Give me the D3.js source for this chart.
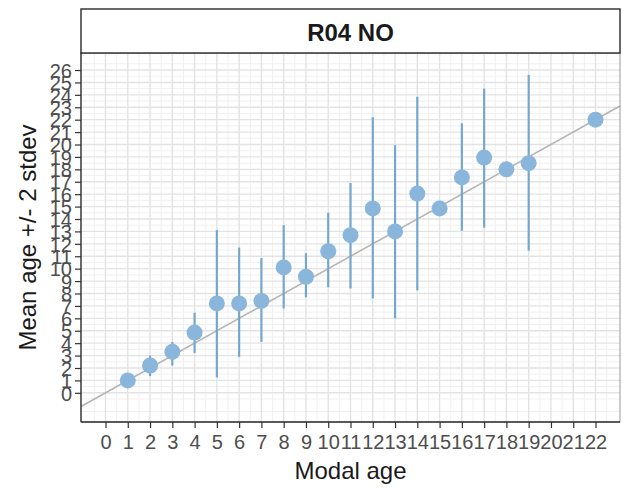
<!DOCTYPE html>
<html>
<head>
<meta charset="utf-8">
<script src="https://cdn.jsdelivr.net/npm/d3@7"></script>
<style>
  body { margin: 0; background: #fff; }
  svg { display: block; font-family: "Liberation Sans", Arial, sans-serif; }
</style>
</head>
<body>
<svg id="chart" width="623" height="489"></svg>
<script>
// modal age, mean age, mean - 2sd, mean + 2sd
const modalAge = [1, 2, 3, 4, 5, 6, 7, 8, 9, 10, 11, 12, 13, 14, 15, 16, 17, 18, 19, 22];
const meanAge  = [1.0, 2.2, 3.3, 4.85, 7.2, 7.2, 7.4, 10.1, 9.35, 11.4, 12.7, 14.85, 13.0, 16.05, 14.85, 17.35, 18.95, 18.0, 18.5, 22.0];
const lowAge   = [1.0, 1.35, 2.2, 3.2, 1.25, 2.9, 4.1, 6.8, 7.7, 8.5, 8.4, 7.6, 6.0, 8.25, 14.85, 13.05, 13.3, 18.0, 11.45, 22.0];
const highAge  = [1.0, 3.0, 4.1, 6.45, 13.1, 11.7, 10.85, 13.5, 11.25, 14.5, 16.9, 22.2, 19.95, 23.85, 14.85, 21.7, 24.5, 18.0, 25.6, 22.0];
const xTicks = d3.range(0, 23);
const yTicks = d3.range(0, 27);
const stripLabel = "R04 NO";

const svg = d3.select('#chart');
const pLeft = 81, pRight = 620, pTop = 53, pBottom = 422;

const x = d3.scaleLinear().domain([-1.1, 23.1]).range([pLeft, pRight]);
const y = d3.scaleLinear().domain([-2.35, 27.37]).range([pBottom, pTop]);

// panel background
svg.append('rect')
  .attr('x', pLeft).attr('y', pTop)
  .attr('width', pRight - pLeft).attr('height', pBottom - pTop)
  .style('fill', '#fff');

// minor grid
const g = svg.append('g');
d3.range(-0.5, 23.5, 1).forEach(v => {
  g.append('line')
    .attr('x1', x(v)).attr('x2', x(v)).attr('y1', pTop).attr('y2', pBottom)
    .style('stroke', '#eeeeee').style('stroke-width', 0.9);
});
d3.range(-1.5, 27.5, 1).forEach(v => {
  g.append('line')
    .attr('x1', pLeft).attr('x2', pRight).attr('y1', y(v)).attr('y2', y(v))
    .style('stroke', '#eeeeee').style('stroke-width', 0.9);
});
// major grid
xTicks.forEach(v => {
  g.append('line')
    .attr('x1', x(v)).attr('x2', x(v)).attr('y1', pTop).attr('y2', pBottom)
    .style('stroke', '#e3e3e3').style('stroke-width', 1.4);
});
yTicks.forEach(v => {
  g.append('line')
    .attr('x1', pLeft).attr('x2', pRight).attr('y1', y(v)).attr('y2', y(v))
    .style('stroke', '#e3e3e3').style('stroke-width', 1.4);
});

// reference line y = x
svg.append('line')
  .attr('x1', x(-1.1)).attr('y1', y(-1.1))
  .attr('x2', x(23.1)).attr('y2', y(23.1))
  .style('stroke', '#b5b5b5').style('stroke-width', 1.6);

const data = modalAge.map((m, i) => ({m: m, mean: meanAge[i], lo: lowAge[i], hi: highAge[i]}));

svg.append('g').selectAll('line')
  .data(data.filter(d => d.hi - d.lo > 0.01))
  .join('line')
  .attr('x1', d => x(d.m)).attr('x2', d => x(d.m))
  .attr('y1', d => y(d.lo)).attr('y2', d => y(d.hi))
  .style('stroke', '#74a7cf').style('stroke-width', 2.2);

svg.append('g').selectAll('circle')
  .data(data)
  .join('circle')
  .attr('cx', d => x(d.m))
  .attr('cy', d => y(d.mean))
  .attr('r', 8)
  .style('fill', '#8ab6dc');

// panel border
svg.append('rect')
  .attr('x', pLeft).attr('y', pTop)
  .attr('width', pRight - pLeft).attr('height', pBottom - pTop)
  .style('fill', 'none').style('stroke', '#999').style('stroke-width', 1);
// axis lines
svg.append('line').attr('x1', pLeft).attr('x2', pLeft).attr('y1', pTop).attr('y2', pBottom)
  .style('stroke', '#333').style('stroke-width', 1.3);
svg.append('line').attr('x1', pLeft).attr('x2', pRight).attr('y1', pBottom).attr('y2', pBottom)
  .style('stroke', '#333').style('stroke-width', 1.3);

// axes
const xAxis = svg.append('g')
  .attr('transform', `translate(0,${pBottom})`)
  .call(d3.axisBottom(x).tickValues(xTicks).tickSize(6).tickPadding(7).tickFormat(d3.format('d')));
const yAxis = svg.append('g')
  .attr('transform', `translate(${pLeft},0)`)
  .call(d3.axisLeft(y).tickValues(yTicks).tickSize(6).tickPadding(3).tickFormat(d3.format('d')));
[xAxis, yAxis].forEach(a => {
  a.select('.domain').remove();
  a.selectAll('.tick line').style('stroke', '#333').style('stroke-width', 1.2);
  a.selectAll('.tick text')
    .style('fill', '#4d4d4d')
    .style('font-size', '20px')
    .style('font-family', '"Liberation Sans", Arial, sans-serif');
});
yAxis.selectAll('.tick text').attr('dy', '0.36em');

// strip
svg.append('rect')
  .attr('x', pLeft).attr('y', 9)
  .attr('width', pRight - pLeft).attr('height', pTop - 9)
  .style('fill', '#fff').style('stroke', '#1a1a1a').style('stroke-width', 1.3);
svg.append('text')
  .attr('x', (pLeft + pRight) / 2).attr('y', 32)
  .attr('text-anchor', 'middle').attr('dominant-baseline', 'central')
  .style('font-size', '24px').style('font-weight', 'bold').style('fill', '#1a1a1a')
  .text(stripLabel);

// axis titles
svg.append('text')
  .attr('x', (pLeft + pRight) / 2).attr('y', 479)
  .attr('text-anchor', 'middle')
  .style('font-size', '24px').style('fill', '#1a1a1a')
  .text('Modal age');
svg.append('text')
  .attr('transform', `translate(36,${(pTop + pBottom) / 2}) rotate(-90)`)
  .attr('text-anchor', 'middle')
  .style('font-size', '24px').style('fill', '#1a1a1a')
  .text('Mean age +/- 2 stdev');
</script>
</body>
</html>
